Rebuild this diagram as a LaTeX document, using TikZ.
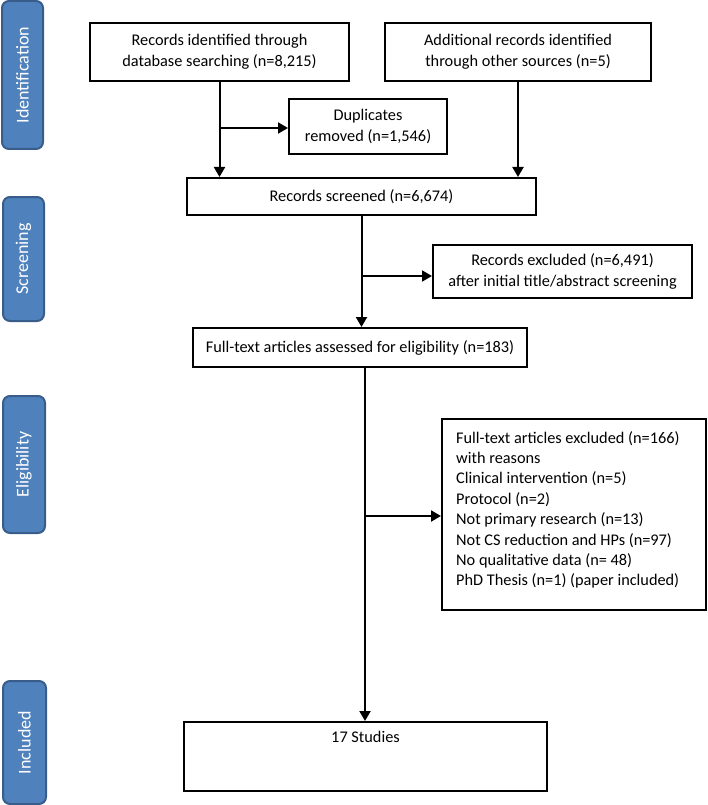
\documentclass[tikz,border=0pt]{standalone}
\usepackage{fontspec}
\setmainfont{Carlito}
\usetikzlibrary{arrows.meta,calc}
\definecolor{barfill}{HTML}{4F81BD}
\definecolor{barline}{HTML}{385D8A}
\begin{document}
\begin{tikzpicture}[x=1pt,y=-1pt,
  box/.style={draw=black,line width=2pt,align=center,inner sep=0pt,font=\fontsize{16.3}{21}\selectfont},
  bar/.style={draw=barline,fill=barfill,line width=2pt,rounded corners=7pt,text=white,inner sep=0pt,font=\fontsize{18}{22}\selectfont},
  arr/.style={line width=2pt,-{Triangle[length=10pt,width=11pt]}}]
\useasboundingbox (0,0) rectangle (707,805);
% phase bars
\node[bar,minimum width=148pt,minimum height=41pt,rotate=90] (b1) at (22.5,75) {Identification};
\node[bar,minimum width=124pt,minimum height=41pt,rotate=90] (b2) at (23.5,259) {Screening};
\node[bar,minimum width=137pt,minimum height=42pt,rotate=90] (b3) at (24,464.5) {Eligibility};
\node[bar,minimum width=123pt,minimum height=43pt,rotate=90] (b4) at (24.5,742.5) {Included};
% boxes
\node[box,minimum width=259pt,minimum height=58pt] (rid) at (219.5,52) {Records identified through\\database searching (n=8,215)};
\node[box,minimum width=266pt,minimum height=58pt] (add) at (518,52) {Additional records identified\\through other sources (n=5)};
\node[box,minimum width=158pt,minimum height=55pt] (dup) at (368,126.5) {Duplicates\\removed (n=1,546)};
\node[box,minimum width=349pt,minimum height=37pt] (scr) at (361.5,196.5) {Records screened (n=6,674)};
\node[box,minimum width=259pt,minimum height=53pt] (ex1) at (562.5,271.5) {Records excluded (n=6,491)\\after initial title/abstract screening};
\node[box,minimum width=334pt,minimum height=39pt] (ft) at (360,347.5) {Full-text articles assessed for eligibility (n=183)};
\node[box,minimum width=264pt,minimum height=191pt] (ex2) at (574,514.5) {};
\node[anchor=north west,align=left,inner sep=0pt,font=\fontsize{16.3}{20.4}\selectfont] (ex2t) at (456,431) {Full-text articles excluded (n=166)\\with reasons\\Clinical intervention (n=5)\\Protocol (n=2)\\Not primary research (n=13)\\Not CS reduction and HPs (n=97)\\No qualitative data (n= 48)\\PhD Thesis (n=1) (paper included)};
\node[box,minimum width=363pt,minimum height=69pt] (st) at (365.5,756.5) {};
\node[anchor=north,inner sep=0pt,font=\fontsize{16.3}{21}\selectfont] (stt) at (365.5,731) {17 Studies};
% connectors
\coordinate (c1) at (0,128);
\coordinate (c2) at (0,276);
\coordinate (c3) at (365,516);
\draw[arr] (rid.south) -- (rid.south |- scr.north);
\draw[arr] (rid.south |- c1) -- (dup.west |- c1);
\draw[arr] (add.south) -- (add.south |- scr.north);
\draw[arr] (scr.south) -- (scr.south |- ft.north);
\draw[arr] (scr.south |- c2) -- (ex1.west |- c2);
\draw[arr] (ft.south -| c3) -- (st.north -| c3);
\draw[arr] (c3) -- (ex2.west |- c3);
\end{tikzpicture}
\end{document}
